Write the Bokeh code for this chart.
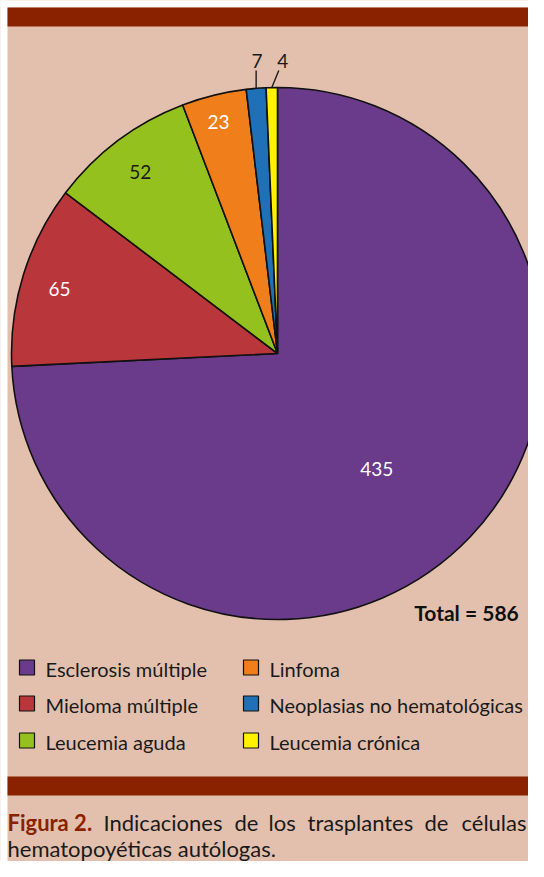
import math
from bokeh.plotting import figure
from bokeh.models import Range1d, ColumnDataSource
from bokeh.core.properties import value
from bokeh.embed import file_html
from bokeh.resources import INLINE

# ---------------- data ----------------
categories = ["Esclerosis múltiple", "Mieloma múltiple", "Leucemia aguda",
              "Linfoma", "Neoplasias no hematológicas", "Leucemia crónica"]
counts = [435, 65, 52, 23, 7, 4]
colors = ["#6a3a8b", "#b9363a", "#95c11f", "#f07e1a", "#1f70b7", "#fff200"]
label_colors = ["white", "white", "#1a1a1a", "white", "#1a1a1a", "#1a1a1a"]
total_text = "Total = 586"
caption_bold = "Figura 2."
caption_line1 = ["Indicaciones", "de", "los", "trasplantes", "de"]
caption_last = "células"
caption_line2 = "hematopoyéticas autólogas."

# ---------------- layout (figure-local pixel coords, y downwards) ----------------
W, H = 528, 861
def yd(ys):
    return -ys

BG = "#e3c0ad"
BAR = "#8a2200"
INK = "#1a1a1a"
FONT = "Lato"

p = figure(width=W, height=H, x_range=Range1d(0, W), y_range=Range1d(-H, 0),
           x_axis_type=None, y_axis_type=None, output_backend="svg", toolbar_location=None,
           min_border=0)
p.grid.visible = False
p.background_fill_color = BG
p.border_fill_color = BG
p.outline_line_color = None

# white page margin strips, coloured bars
p.quad(left=-5, right=7, top=5, bottom=-H - 5, fill_color="white", line_color=None)
p.quad(left=-5, right=W + 5, top=5, bottom=yd(7), fill_color="white", line_color=None)
p.quad(left=7, right=W + 5, top=yd(7), bottom=yd(26), fill_color=BAR, line_color=None)
p.quad(left=7, right=W + 5, top=yd(776), bottom=yd(795), fill_color=BAR, line_color=None)

# ---------------- pie ----------------
cx, cy, R = 277, yd(353), 266
total = sum(counts)
starts, ends, mids = [], [], []
cum = 0
for c in counts:
    a0 = math.pi / 2 - 2 * math.pi * cum / total
    cum += c
    a1 = math.pi / 2 - 2 * math.pi * cum / total
    starts.append(a0); ends.append(a1); mids.append((a0 + a1) / 2)

src = ColumnDataSource(dict(start=starts, end=ends, color=colors, cat=categories))
p.wedge(x=cx, y=cy, radius=R, start_angle="start", end_angle="end", direction="clock",
        fill_color="color", line_color="#111111", line_width=1.6, source=src)

# inside labels: radius fraction and angle tweak (deg)
label_r = [0.573, 0.855, 0.856, 0.898]
label_da = [-5.7, 0.7, 0.2, 0.5]
lx, ly, lt, lc = [], [], [], []
for i in range(4):
    a = mids[i] + math.radians(label_da[i])
    lx.append(cx + label_r[i] * R * math.cos(a))
    ly.append(cy + label_r[i] * R * math.sin(a))
    lt.append(str(counts[i])); lc.append(label_colors[i])
p.text(x=lx, y=ly, text=lt, text_color=lc, text_align="center", text_baseline="middle",
       text_font=value(FONT), text_font_size=value("19px"))

# outside labels with leader lines
lead_dx = [0, 7]
text_dx = [1, 4]
ox, oy, ot = [], [], []
for k, i in enumerate([4, 5]):
    a = mids[i]
    ex, ey = cx + R * math.cos(a), cy + R * math.sin(a)
    tx, ty = ex + lead_dx[k], yd(70)
    p.line(x=[ex, tx], y=[ey, ty], line_color=INK, line_width=1.4)
    ox.append(tx + text_dx[k]); oy.append(yd(60)); ot.append(str(counts[i]))
p.text(x=ox, y=oy, text=ot, text_color=INK, text_align="center", text_baseline="middle",
       text_font=value(FONT), text_font_size=value("19px"))

# total
p.text(x=[466], y=[yd(612)], text=[total_text], text_color="#111111", text_align="center",
       text_baseline="middle", text_font=value(FONT), text_font_size=value("21px"),
       text_font_style="bold")

# ---------------- legend ----------------
col_x = [19, 243]
row_y = [667, 703, 740]
sq = 15
for i, (cat, col) in enumerate(zip(categories, colors)):
    c, r = divmod(i, 3)
    x = col_x[c]; y = row_y[r]
    p.rect(x=[x + sq / 2], y=[yd(y)], width=sq, height=sq, fill_color=col,
           line_color="#111111", line_width=1.2)
    p.text(x=[x + 26], y=[yd(y) - 1], text=[cat], text_color=INK, text_align="left",
           text_baseline="middle", text_font=value(FONT), text_font_size=value("20px"))

# ---------------- caption ----------------
cap_size = value("22px")
y1, y2 = yd(822), yd(848)
p.text(x=[7], y=[y1], text=[caption_bold], text_color=BAR, text_align="left",
       text_baseline="middle", text_font=value(FONT), text_font_size=cap_size,
       text_font_style="bold")
word_x = [103, 234, 268, 307, 424]
p.text(x=word_x, y=[y1] * len(word_x), text=caption_line1, text_color=INK,
       text_align="left", text_baseline="middle", text_font=value(FONT),
       text_font_size=cap_size)
p.text(x=[526], y=[y1], text=[caption_last], text_color=INK, text_align="right",
       text_baseline="middle", text_font=value(FONT), text_font_size=cap_size)
p.text(x=[7], y=[y2], text=[caption_line2], text_color=INK, text_align="left",
       text_baseline="middle", text_font=value(FONT), text_font_size=cap_size)

open("out.html", "w").write(file_html(p, INLINE))
